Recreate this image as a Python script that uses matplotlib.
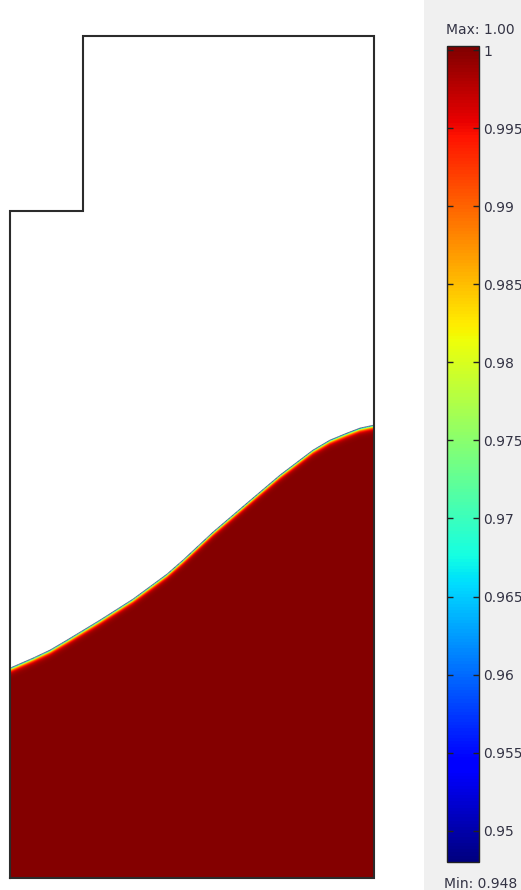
import matplotlib
matplotlib.use("Agg")

import matplotlib.pyplot as plt
import numpy as np
from matplotlib import colors
from matplotlib.cm import ScalarMappable
from matplotlib.patches import Rectangle

# geometry outline (domain units)
OUTLINE_X = [0.0, 36.4, 36.4, 7.3, 7.3, 0.0, 0.0]
OUTLINE_Y = [0.0, 0.0, 84.2, 84.2, 66.7, 66.7, 0.0]

# free-surface position (x, height)
INTERFACE_X = [0.0, 2.3, 4.0, 5.7, 9.0, 12.3, 15.7, 17.3, 20.3, 23.7, 27.0, 30.3, 32.0, 33.7, 35.0, 36.4]
INTERFACE_H = [21.0, 22.0, 22.8, 23.8, 25.8, 27.9, 30.4, 31.8, 34.6, 37.5, 40.3, 42.8, 43.8, 44.5, 45.0, 45.3]

V_MIN, V_MAX = 0.948, 1.00026
CBAR_TICKS = [0.95, 0.955, 0.96, 0.965, 0.97, 0.975, 0.98, 0.985, 0.99, 0.995, 1.0]
TEXT_COLOUR = "#333344"

fig = plt.figure(figsize=(5.21, 8.90), dpi=100)

# grey panel behind the colour legend
fig.patches.append(
    Rectangle((424 / 521, 0), 1 - 424 / 521, 1, transform=fig.transFigure,
              facecolor="#f0f0f0", edgecolor="none", zorder=-10)
)

ax = fig.add_axes([0, 0, 424 / 521, 1])
ax.set_xlim(-1.0, 41.4)
ax.set_ylim(-1.2, 87.8)
ax.set_axis_off()

# volume-fraction field: full below the surface, thin smeared layer at it
xg = np.linspace(0, 36.4, 729)
yg = np.linspace(0, 84.2, 1685)
X, Y = np.meshgrid(xg, yg)
depth = np.interp(X, INTERFACE_X, INTERFACE_H) - Y
field = 1.0 - 0.046 * np.exp(-depth / 0.2)
field = np.where(depth >= 0, field, np.nan)

cmap = plt.get_cmap("jet").copy()
cmap.set_bad((1, 1, 1, 0))
norm = colors.Normalize(vmin=V_MIN, vmax=V_MAX)
ax.imshow(field, origin="lower", extent=(0, 36.4, 0, 84.2), cmap=cmap,
          norm=norm, interpolation="bilinear", aspect="auto", zorder=1)

ax.plot(INTERFACE_X, INTERFACE_H, color="#1a1a2a", lw=0.5, alpha=0.6, zorder=2)
ax.plot(OUTLINE_X, OUTLINE_Y, color="#2b2b2b", lw=1.5, zorder=3,
        solid_joinstyle="miter")

# colour legend
cax = fig.add_axes([447 / 521, 28 / 890, 32 / 521, 816 / 890])
cb = fig.colorbar(ScalarMappable(norm=norm, cmap=cmap), cax=cax)
cb.set_ticks(CBAR_TICKS)
cb.set_ticklabels([f"{t:g}" for t in CBAR_TICKS])
cb.outline.set_linewidth(1.0)
cb.outline.set_edgecolor("#222222")
cax.tick_params(axis="y", direction="in", length=4.5, width=1.0, left=True,
                right=True, labelsize=10, labelcolor=TEXT_COLOUR, pad=3,
                color="#222222")

fig.text(446 / 521, 1 - 30 / 890, f"Max: {V_MAX:.2f}", fontsize=10,
         color=TEXT_COLOUR, va="center", ha="left")
fig.text(444 / 521, 1 - 884 / 890, f"Min: {V_MIN:.3f}", fontsize=10,
         color=TEXT_COLOUR, va="center", ha="left")

fig.savefig("out.png", dpi=100)
